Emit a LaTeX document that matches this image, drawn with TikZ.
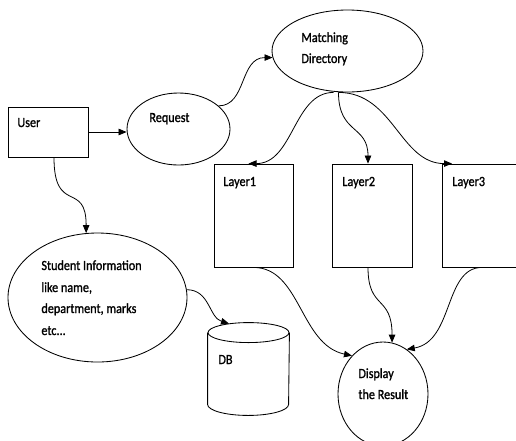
\documentclass[tikz,border=0pt]{standalone}
\usepackage{fontspec}
\setmainfont{Carlito}[FakeStretch=0.87,FakeBold=1.2]
\usetikzlibrary{arrows.meta,shapes.geometric,calc}
\begin{document}
\begin{tikzpicture}[x=1pt,y=-1pt,
  line width=0.85pt,
  box/.style={draw, rectangle, minimum width=80pt, minimum height=103pt, inner sep=0pt},
  ell/.style={draw, ellipse, inner sep=0pt},
  txt/.style={anchor=base west, inner sep=0pt, font=\fontsize{14}{16}\selectfont},
  arr/.style={-{Triangle[length=8pt,width=6.5pt]}, line width=0.8pt}]
\fill[white] (0,0) rectangle (516,440);
\clip (0,0) rectangle (516,440);

% shapes
\node[box, minimum height=50pt] (user) at (48,132) {};
\node[ell, minimum width=103pt, minimum height=72pt] (request) at (178.5,129) {};
\node[ell, minimum width=151pt, minimum height=82pt] (matching) at (347.5,51) {};
\node[box, minimum width=79pt] (layer1) at (253.5,215.5) {};
\node[box] (layer2) at (372,215.5) {};
\node[box] (layer3) at (482,215.5) {};
\node[ell, minimum width=179pt, minimum height=129pt] (student) at (97.5,297.5) {};
\node[ell, minimum width=90pt, minimum height=104pt] (display) at (383,394) {};
\node[minimum width=81pt, minimum height=71pt, inner sep=0pt] (db) at (248.5,368.5) {};
\draw (db.north) ellipse [x radius=40.5pt, y radius=10pt];
\draw (db.north west) -- (db.south west) arc[start angle=180, end angle=360, x radius=40.5pt, y radius=11pt] -- (db.north east);

% texts
\node[txt] (tuser) at (17,127) {User};
\node[txt] (treq) at (149,122) {Request};
\node[txt] (tmatch1) at (301,42) {Matching};
\node[txt] (tmatch2) at (301,63) {Directory};
\node[txt] (tl1) at (223,186) {Layer1};
\node[txt] (tl2) at (342,186) {Layer2};
\node[txt] (tl3) at (452,186) {Layer3};
\node[txt] (ts1) at (41,270) {Student Information};
\node[txt] (ts2) at (41,292) {like name,};
\node[txt] (ts3) at (41,313) {department, marks};
\node[txt] (ts4) at (41,335) {etc...};
\node[txt] (tdb) at (218,364) {DB};
\node[txt] (td1) at (358,378) {Display};
\node[txt] (td2) at (358,399) {the Result};

% connectors
\draw[arr] (user.east) -- (user.east -| request.west);
\draw[arr] (request.30) .. controls +(28,0) and +(-33,0) .. (matching.185);
\draw[arr] ($(matching.south)+(-14,0)$) .. controls +(-40,0) and +(45,0) .. ($(layer1.north)+(-5,0)$);
\draw[arr] ($(matching.south)+(-9,0)$) .. controls +(0,42) and +(0,-39) .. ($(layer2.north)+(-4,0)$);
\draw[arr] ($(matching.south)+(-9,0)$) .. controls +(55,0) and +(-52,0) .. ($(layer3.north)+(-30,0)$);
\draw[arr] (layer1.south) .. controls +(47,0) and +(-52,-11) .. (display.129);
\draw[arr] ($(layer2.south)+(-4,0)$) .. controls +(0,43) and +(0,-48) .. (display.80);
\draw[arr] (layer3.south) .. controls +(-38,0) and +(47,-8) .. (display.62);
\draw[arr] ($(user.south)+(6,0)$) .. controls +(0,58) and +(0,-53) .. (student.100);
\draw[arr] (student.5) .. controls +(23,0) and +(-20,-6) .. ($(db.north)+(-19.5,-9)$);
\end{tikzpicture}
\end{document}
